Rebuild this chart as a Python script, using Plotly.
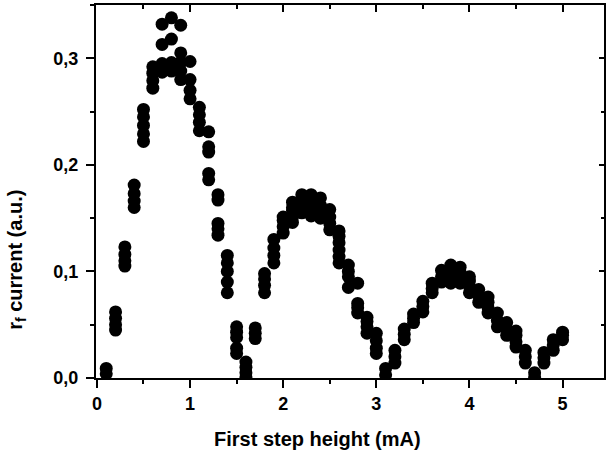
import plotly.graph_objects as go

# Measured rf current versus first step height; several readings per step value
step_height = [
    0.1, 0.1,
    0.2, 0.2, 0.2, 0.2,
    0.3, 0.3, 0.3, 0.3,
    0.4, 0.4, 0.4, 0.4,
    0.5, 0.5, 0.5, 0.5, 0.5,
    0.6, 0.6, 0.6, 0.6,
    0.7, 0.7, 0.7, 0.7,
    0.8, 0.8, 0.8, 0.8,
    0.9, 0.9, 0.9, 0.9, 0.9,
    1.0, 1.0, 1.0, 1.0,
    1.1, 1.1, 1.1, 1.1,
    1.2, 1.2, 1.2, 1.2, 1.2,
    1.3, 1.3, 1.3, 1.3, 1.3,
    1.4, 1.4, 1.4, 1.4, 1.4,
    1.5, 1.5, 1.5, 1.5, 1.5,
    1.6, 1.6, 1.6, 1.6,
    1.7, 1.7, 1.7,
    1.8, 1.8, 1.8, 1.8,
    1.9, 1.9, 1.9, 1.9,
    2.0, 2.0, 2.0, 2.0,
    2.1, 2.1, 2.1, 2.1, 2.1,
    2.2, 2.2, 2.2, 2.2,
    2.3, 2.3, 2.3, 2.3,
    2.4, 2.4, 2.4, 2.4,
    2.5, 2.5, 2.5, 2.5,
    2.6, 2.6, 2.6, 2.6, 2.6, 2.6,
    2.7, 2.7, 2.7, 2.7,
    2.8, 2.8, 2.8, 2.8,
    2.9, 2.9, 2.9, 2.9,
    3.0, 3.0, 3.0, 3.0,
    3.1, 3.1,
    3.2, 3.2, 3.2,
    3.3, 3.3, 3.3,
    3.4, 3.4, 3.4,
    3.5, 3.5, 3.5,
    3.6, 3.6, 3.6,
    3.7, 3.7, 3.7,
    3.8, 3.8, 3.8, 3.8,
    3.9, 3.9, 3.9, 3.9,
    4.0, 4.0, 4.0, 4.0,
    4.1, 4.1, 4.1,
    4.2, 4.2, 4.2, 4.2,
    4.3, 4.3, 4.3,
    4.4, 4.4, 4.4,
    4.5, 4.5, 4.5, 4.5,
    4.6, 4.6, 4.6,
    4.7, 4.7,
    4.8, 4.8, 4.8,
    4.9, 4.9, 4.9,
    5.0, 5.0, 5.0,
]

rf_current = [
    0.004, 0.009,
    0.045, 0.050, 0.056, 0.062,
    0.105, 0.110, 0.116, 0.123,
    0.160, 0.166, 0.173, 0.181,
    0.222, 0.229, 0.237, 0.245, 0.252,
    0.272, 0.279, 0.286, 0.292,
    0.287, 0.295, 0.313, 0.332,
    0.288, 0.296, 0.318, 0.338,
    0.280, 0.288, 0.296, 0.305, 0.331,
    0.262, 0.270, 0.280, 0.297,
    0.232, 0.240, 0.247, 0.254,
    0.186, 0.192, 0.212, 0.217, 0.231,
    0.134, 0.140, 0.145, 0.167, 0.172,
    0.080, 0.090, 0.100, 0.108, 0.115,
    0.023, 0.028, 0.038, 0.043, 0.048,
    0.001, 0.005, 0.010, 0.015,
    0.037, 0.042, 0.047,
    0.080, 0.087, 0.093, 0.098,
    0.108, 0.115, 0.122, 0.130,
    0.136, 0.142, 0.148, 0.151,
    0.146, 0.151, 0.157, 0.160, 0.165,
    0.155, 0.160, 0.166, 0.172,
    0.152, 0.158, 0.164, 0.172,
    0.150, 0.156, 0.162, 0.169,
    0.139, 0.145, 0.151, 0.158,
    0.108, 0.114, 0.120, 0.127, 0.133, 0.138,
    0.085, 0.095, 0.100, 0.106,
    0.061, 0.066, 0.070, 0.089,
    0.042, 0.048, 0.053, 0.057,
    0.023, 0.028, 0.035, 0.042,
    0.003, 0.009,
    0.014, 0.020, 0.026,
    0.036, 0.041, 0.046,
    0.052, 0.056, 0.060,
    0.062, 0.067, 0.072,
    0.080, 0.084, 0.089,
    0.090, 0.095, 0.101,
    0.089, 0.094, 0.100, 0.106,
    0.089, 0.094, 0.099, 0.104,
    0.080, 0.086, 0.091, 0.095,
    0.071, 0.077, 0.083,
    0.061, 0.066, 0.071, 0.076,
    0.048, 0.054, 0.061,
    0.040, 0.046, 0.052,
    0.029, 0.034, 0.040, 0.044,
    0.014, 0.020, 0.026,
    0.001, 0.005,
    0.014, 0.019, 0.024,
    0.026, 0.031, 0.036,
    0.036, 0.040, 0.043,
]

x_ticks = [0, 1, 2, 3, 4, 5]
y_ticks = [0.0, 0.1, 0.2, 0.3]
x_title = "First step height (mA)"
y_title = "r<sub>f</sub> current (a.u.)"

X_RANGE = [-0.01, 5.445]
Y_RANGE = [0.0, 0.35]
FONT = "Liberation Sans, Arial, sans-serif"

fig = go.Figure()
fig.add_trace(go.Scatter(
    x=step_height, y=rf_current, mode="markers",
    marker=dict(symbol="circle", size=13, color="black", line=dict(width=0)),
    showlegend=False, hoverinfo="skip",
))
# Invisible trace that carries the mirrored top/right axes
fig.add_trace(go.Scatter(x=[None], y=[None], xaxis="x2", yaxis="y2",
                         showlegend=False, hoverinfo="skip"))

fig.update_layout(
    width=606, height=455,
    margin=dict(l=96, r=2, t=5, b=77),
    paper_bgcolor="white", plot_bgcolor="white",
    separators=", ",
    font=dict(family=FONT, color="black"),
    xaxis=dict(
        range=X_RANGE, tickvals=x_ticks, ticks="outside", ticklen=8, tickwidth=2,
        tickcolor="black", showline=True, linecolor="black", linewidth=2,
        showgrid=False, zeroline=False,
        tickfont=dict(family=FONT, size=18, weight="bold"),
        minor=dict(dtick=0.5, ticks="outside", ticklen=4, tickwidth=2, tickcolor="black"),
    ),
    yaxis=dict(
        range=Y_RANGE, tickvals=y_ticks, tickformat=".1f", ticks="outside", ticklen=8,
        tickwidth=2, tickcolor="black", showline=True, linecolor="black", linewidth=2,
        showgrid=False, zeroline=False, ticklabelstandoff=4,
        tickfont=dict(family=FONT, size=18, weight="bold"),
        minor=dict(dtick=0.05, ticks="outside", ticklen=4, tickwidth=2, tickcolor="black"),
    ),
    xaxis2=dict(
        range=X_RANGE, overlaying="x", side="top", anchor="y2", tickvals=x_ticks,
        ticks="inside", ticklen=7, tickwidth=2, tickcolor="black", showticklabels=False,
        showline=True, linecolor="black", linewidth=2, showgrid=False, zeroline=False,
        minor=dict(dtick=0.5, ticks="inside", ticklen=4, tickwidth=2, tickcolor="black"),
    ),
    yaxis2=dict(
        range=Y_RANGE, overlaying="y", side="right", anchor="x2", tickvals=y_ticks,
        ticks="inside", ticklen=5, tickwidth=2, tickcolor="black", showticklabels=False,
        showline=True, linecolor="black", linewidth=2, showgrid=False, zeroline=False,
        minor=dict(dtick=0.05, ticks="inside", ticklen=3, tickwidth=2, tickcolor="black"),
    ),
    annotations=[
        dict(text=x_title, xref="paper", yref="paper", x=0.437, y=-0.1635,
             xanchor="center", yanchor="middle", showarrow=False,
             font=dict(family=FONT, size=20, weight="bold", color="black")),
        dict(text=y_title, xref="paper", yref="paper", x=-0.158, y=0.316,
             xanchor="center", yanchor="middle", textangle=-90, showarrow=False,
             font=dict(family=FONT, size=20, weight="bold", color="black")),
    ],
)

fig.write_html("out.html")
